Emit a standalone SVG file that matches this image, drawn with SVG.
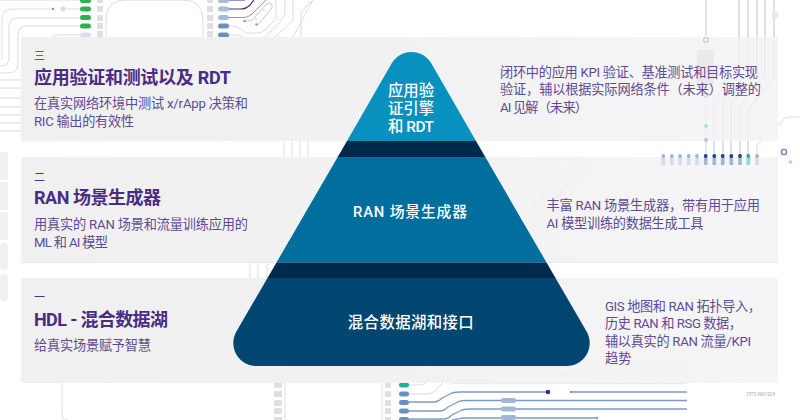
<svg xmlns="http://www.w3.org/2000/svg" width="800" height="420" viewBox="0 0 800 420">
<style>
text{font-family:"Roboto","Noto Sans CJK SC",sans-serif;fill:#4f3586}
.num{font-size:11px}
.ttl{font-size:18px;font-weight:700;fill:#4a2c82}
.body{font-size:13.2px;fill:#5f4a94}
.lbl{font-size:15.4px;font-weight:500;fill:#fff;text-anchor:middle}
.g{fill:none;stroke:#dcdcdc;stroke-width:1}
.g2{fill:none;stroke:#cfd0d3;stroke-width:1.2}
.bl{fill:none;stroke:#7f99c4;stroke-width:1.3}
.sq{fill:#e0e0e0}
</style>
<defs>
<linearGradient id="band" x1="0" y1="0" x2="1" y2="0">
<stop offset="0" stop-color="#f0f0f1"/>
<stop offset=".5" stop-color="#f1f1f2" stop-opacity=".97"/>
<stop offset="1" stop-color="#f3f3f5" stop-opacity=".82"/>
</linearGradient>
</defs>
<rect width="800" height="420" fill="#fff"/>

<g id="connectors">
<path class="g" d="M80 0H0M80 9H66M53 9H12Q2 9 2 20V60M80 18H18Q9 18 9 27V58Q9 66 0 66M80 26H26Q18 26 18 34V64Q18 73 8 73H0M80 35H58Q50 35 50 42"/>
<path class="g" d="M0 80H21M0 88H21M0 98H21M0 107H21M0 115H21M0 123H21M0 131H21"/>
<circle cx="53" cy="9" r="1.2" fill="#7f99c4"/><circle cx="63" cy="9" r="2.5" fill="#d5dcea"/>
<path class="g" d="M106 37V20Q106 0 126 0H183Q203 0 203 20V37"/>
<path class="g" d="M62 383V414Q62 420 68 420M285 383V420M382 383V420"/>
<path d="M228 0H245M228 9H241Q246 9 250 5L254 0" fill="none" stroke="#4b2e83" stroke-width="1.2"/>
<path d="M228 17.5H244Q248 17.5 252 14L266 0" fill="none" stroke="#9a9a9e" stroke-width="1"/>
<path class="g" d="M228 35H236Q240 35 244 38M228 26H232Q238 26 242 30L246 33H258Q262 33 266 29L276 19V0M265 37L281 21Q285 17 285 12V0M275 37L293 20V0M293 37L313 0M301 37V27L301 12L313 0"/>
<path d="M244 21H249Q252 21 254 18L266 5Q268 2 270 3L272 5Q273 7 271 9L258 25" fill="none" stroke="#a8bcdc" stroke-width=".8"/>
<circle cx="244.500" cy="21" r="1.2" fill="#7f99c4"/><circle cx="256.500" cy="24.500" r="1.2" fill="#7f99c4"/><circle cx="256" cy="19" r="1" fill="#ddd"/><circle cx="264" cy="10" r="1" fill="#ddd"/>
<path class="g" d="M284 141V157M292 141V157M300 141V157M308 141V157M250 262V278M258 262V278M267 262V278M283 141V37M292 141V37"/>
<path class="g2" d="M706 0V36"/>
<path d="M739 0V70L714 100V155M748 0V72L723 100V155M757 0V74L731 104V155M765 0V76L740 106V155M774 0V78L748 110V155" fill="none" stroke="#c8c9cc" stroke-width="1.1"/>
<path d="M706 44V91M706 99V155" fill="none" stroke="#d6d8dc" stroke-width="1.1"/>
<path class="g" d="M757 155V145L785 118Q787 117 790 117H800"/>
<path class="g" d="M409 385H420Q424 385 428 381L432 376H440M409 394H428Q432 394 436 390L445 381Q448 383 455 383H687M430 367H440M430 376H440M560 366H687M560 374H687"/>
<path class="bl" d="M409 402H434Q438 402 442 398L450 394Q453 392 460 392H548M409 411H440Q444 411 448 407L456 403Q459 400.500 466 400.500H687M409 419H444Q448 419 452 415L460 411Q463 409 470 409H687M452 420L458 419Q461 418 466 418H597"/>
<path class="bl" d="M571 392H687"/>
<circle cx="548" cy="392" r="2.300" fill="#42287a"/><circle cx="571" cy="392" r="1.200" fill="#7f99c4"/><circle cx="597" cy="418" r="1.200" fill="#7f99c4"/>
</g>

<g id="circuit-parts">
<rect class="sq" x="97" y="-3" width="6" height="6"/><rect class="sq" x="97" y="6" width="6" height="6"/><rect class="sq" x="97" y="15" width="6" height="6"/><rect class="sq" x="97" y="23" width="6" height="6"/><rect class="sq" x="97" y="31" width="6" height="6"/>
<rect class="sq" x="207" y="-3" width="6" height="6"/><rect class="sq" x="207" y="6" width="6" height="6"/><rect class="sq" x="207" y="15" width="6" height="6"/><rect class="sq" x="207" y="23" width="6" height="6"/><rect class="sq" x="207" y="31" width="6" height="6"/>
<g fill="#2fb04f"><rect x="80" y="-2" width="11" height="5" rx="2.500"/><rect x="80" y="6.500" width="11" height="5" rx="2.500"/><rect x="80" y="15" width="11" height="5" rx="2.500"/><rect x="80" y="23.500" width="11" height="5" rx="2.500"/></g>
<rect x="80" y="32.500" width="11" height="5" rx="2.500" fill="#d8e0ee"/>
<g fill="#a8bcdc"><rect x="218" y="-2" width="11" height="5" rx="2.500"/><rect x="218" y="6.500" width="11" height="5" rx="2.500"/><rect x="218" y="15" width="11" height="5" rx="2.500"/></g>
<g fill="#6b8fc4"><rect x="218" y="23.500" width="11" height="5" rx="2.500"/><rect x="218" y="32.500" width="11" height="5" rx="2.500"/></g>
<g fill="#e0e0e0"><rect x="274" y="383" width="8" height="5"/><rect x="274" y="391" width="8" height="6"/><rect x="274" y="400" width="8" height="6"/><rect x="274" y="408" width="8" height="6"/><rect x="274" y="417" width="8" height="6"/>
<rect x="385" y="383" width="6" height="5"/><rect x="385" y="391" width="6" height="6"/><rect x="385" y="400" width="6" height="6"/><rect x="385" y="408" width="6" height="6"/><rect x="385" y="417" width="6" height="6"/></g>
<rect x="399" y="382.500" width="10" height="5" rx="2.500" fill="#1bb39b"/>
<g fill="#6b8fc4"><rect x="399" y="391.500" width="10" height="5" rx="2.500"/><rect x="399" y="400" width="10" height="5" rx="2.500"/><rect x="399" y="408.500" width="10" height="5" rx="2.500"/><rect x="399" y="417" width="10" height="5" rx="2.500"/></g>
<g fill="#a3b6d6"><rect x="501" y="398" width="15" height="5" rx="2"/><rect x="501" y="406.500" width="15" height="5" rx="2"/><rect x="501" y="415" width="15" height="5" rx="2"/></g>
<g fill="#f0f1f3"><rect x="0" y="152" width="8" height="28"/><rect x="0" y="182" width="8" height="28"/><rect x="0" y="212" width="8" height="28"/><rect x="0" y="243" width="8" height="27" rx="3"/><rect x="0" y="274" width="8" height="27" rx="3"/></g>
<circle cx="775" cy="15" r="3.500" fill="#eaeaeb"/>
<circle cx="784" cy="152" r="2.600" fill="none" stroke="#6680b8" stroke-width="1.300"/>
<circle cx="790.500" cy="162" r="1.300" fill="none" stroke="#8ba0c8" stroke-width=".8"/>
</g>

<g id="bands">
<rect x="21" y="37" width="757" height="104" fill="url(#band)"/>
<rect x="21" y="157" width="757" height="105.500" fill="url(#band)"/>
<rect x="21" y="278" width="757" height="105" fill="url(#band)"/>
<path d="M21 262.500H778" stroke="#e6e8ee" stroke-width=".8"/>
<path d="M583 156L528 211M590 164L545 209" stroke="#e8e8ea" stroke-width=".8" fill="none"/>
<rect x="697" y="50" width="17" height="35" fill="#eaeaeb"/>
</g>

<g id="right-parts">
<circle cx="706" cy="40" r="2.300" fill="#fff" stroke="#bcc8de" stroke-width="1.200"/>
<circle cx="706" cy="95" r="2.300" fill="#f4f4f5" stroke="#c8d2e4" stroke-width="1"/>
<circle cx="706" cy="126" r="1.900" fill="#a6e0d6"/>
<circle cx="706" cy="140" r="2.200" fill="#c0cade"/>
<g fill="#d3dbe9"><rect x="661.500" y="158" width="3.600" height="7"/><rect x="670" y="158" width="3.600" height="7"/><rect x="678.200" y="158" width="3.600" height="7"/><rect x="686.900" y="158" width="3.600" height="7"/><rect x="695.200" y="158" width="3.600" height="7"/><rect x="755.200" y="158" width="3.600" height="7"/></g>
<g fill="#a3b6d6"><rect x="661.500" y="154" width="3.600" height="4" rx="1.500"/><rect x="670" y="154" width="3.600" height="4" rx="1.500"/><rect x="678.200" y="154" width="3.600" height="4" rx="1.500"/><rect x="686.900" y="154" width="3.600" height="4" rx="1.500"/><rect x="695.200" y="154" width="3.600" height="4" rx="1.500"/><rect x="755.200" y="154" width="3.600" height="4" rx="1.500"/></g>
<g fill="#a3b6d6"><rect x="703.900" y="158" width="3.600" height="7"/><rect x="712.500" y="158" width="3.600" height="7"/><rect x="720.900" y="158" width="3.600" height="7"/><rect x="729.500" y="158" width="3.600" height="7"/><rect x="738.200" y="158" width="3.600" height="7"/></g>
<g fill="#1f4a8a"><rect x="703.900" y="154" width="3.600" height="4" rx="1.500"/><rect x="712.500" y="154" width="3.600" height="4" rx="1.500"/><rect x="720.900" y="154" width="3.600" height="4" rx="1.500"/><rect x="729.500" y="154" width="3.600" height="4" rx="1.500"/><rect x="738.200" y="154" width="3.600" height="4" rx="1.500"/></g>
<rect x="746.500" y="158" width="3.600" height="7" fill="#8fdccd"/><rect x="746.500" y="154" width="3.600" height="4" rx="1.500" fill="#1bb39b"/>
</g>

<g id="layer-3">
<path d="M347 141L391.600 63.500A23 23 0 0 1 431.400 63.500L476 141Z" fill="#0890bf"/>
<text class="lbl" x="411" y="95.500">应用验</text>
<text class="lbl" x="411" y="113.500">证引擎</text>
<text class="lbl" x="411" y="131.500" textLength="46">和 RDT</text>
</g>
<path id="divider-upper" d="M347 141H476L485.300 157H337.700Z" fill="#002a4b"/>
<g id="layer-2">
<path d="M337.700 157H485.300L546.500 262.500H276.500Z" fill="#006f9e"/>
<text class="lbl" x="410" y="216.500" style="font-size:14.8px" textLength="114">RAN 场景生成器</text>
</g>
<path id="divider-lower" d="M276.500 262.500H546.500L555.500 278H267.500Z" fill="#002a4b"/>
<g id="layer-1">
<path d="M267.500 278H555.500L586.600 331.500A23 23 0 0 1 566.700 366H256.300A23 23 0 0 1 236.400 331.500Z" fill="#004670"/>
<text class="lbl" x="411" y="327.500" style="letter-spacing:.4px">混合数据湖和接口</text>
</g>

<g id="row-3-left">
<text class="num" x="34" y="59.500">三</text>
<text class="ttl" x="34" y="84" textLength="197">应用验证和测试以及 RDT</text>
<text class="body" x="34" y="108" textLength="214">在真实网络环境中测试 x/rApp 决策和</text>
<text class="body" x="34" y="125.500" textLength="100">RIC 输出的有效性</text>
</g>
<g id="row-2-left">
<text class="num" x="34" y="181">二</text>
<text class="ttl" x="34" y="204" textLength="127">RAN 场景生成器</text>
<text class="body" x="34" y="229" textLength="214">用真实的 RAN 场景和流量训练应用的</text>
<text class="body" x="34" y="246.500" textLength="74">ML 和 AI 模型</text>
</g>
<g id="row-1-left">
<text class="num" x="34" y="301">一</text>
<text class="ttl" x="34" y="325.500" textLength="134">HDL - 混合数据湖</text>
<text class="body" x="34" y="350" textLength="117">给真实场景赋予智慧</text>
</g>
<g id="row-3-right">
<text class="body" x="500" y="76.500" textLength="258">闭环中的应用 KPI 验证、基准测试和目标实现</text>
<text class="body" x="500" y="94" textLength="261">验证，辅以根据实际网络条件（未来）调整的</text>
<text class="body" x="500" y="111.500" textLength="88">AI 见解（未来）</text>
</g>
<g id="row-2-right">
<text class="body" x="546.500" y="210" textLength="213.500">丰富 RAN 场景生成器，带有用于应用</text>
<text class="body" x="546.500" y="228" textLength="157">AI 模型训练的数据生成工具</text>
</g>
<g id="row-1-right">
<text class="body" x="605" y="310.500" textLength="156">GIS 地图和 RAN 拓扑导入，</text>
<text class="body" x="605" y="328" textLength="137">历史 RAN 和 RSG 数据，</text>
<text class="body" x="605" y="345.500" textLength="146">辅以真实的 RAN 流量/KPI</text>
<text class="body" x="605" y="363">趋势</text>
</g>
<text x="775" y="396" text-anchor="end" style="font-size:4.500px;fill:#a9a9ad">1873.9061024</text>
</svg>
